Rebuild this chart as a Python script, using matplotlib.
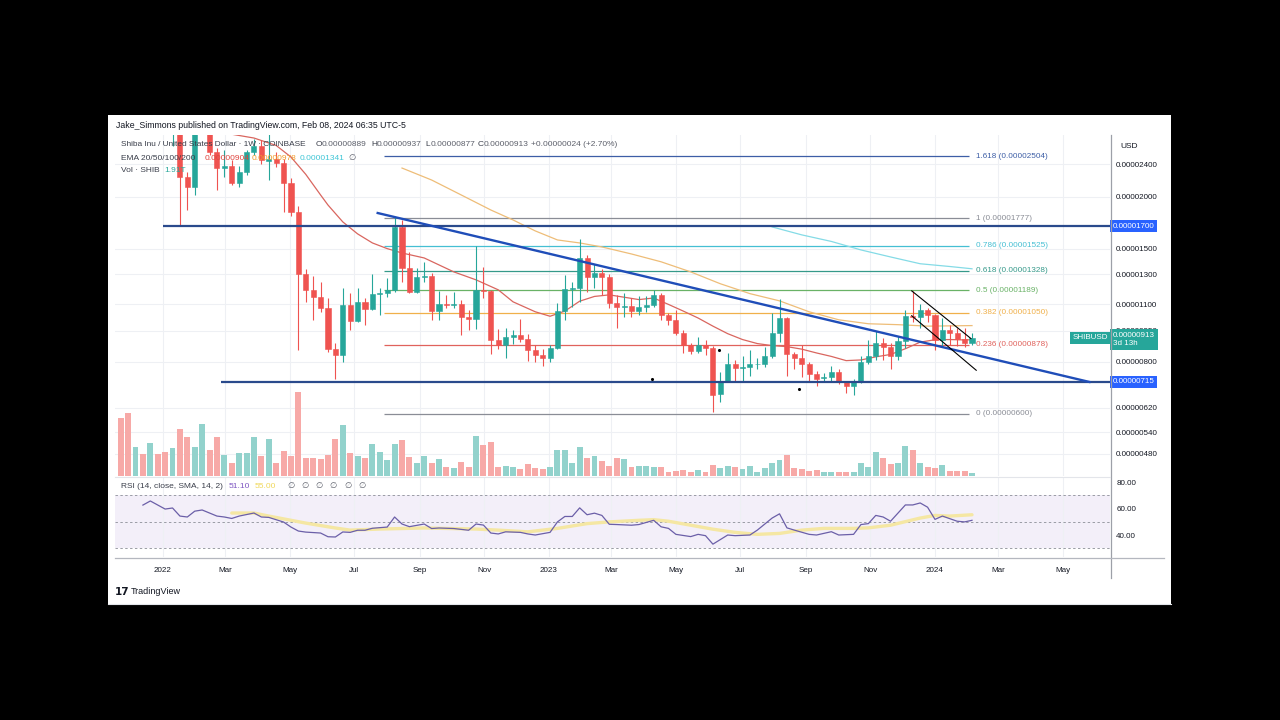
import numpy as np
import pandas as pd
import matplotlib
matplotlib.use("Agg")
import matplotlib.pyplot as plt
import matplotlib.dates as mdates
import matplotlib.transforms as mtrans
from matplotlib.lines import Line2D
from matplotlib.patches import Rectangle
from matplotlib.ticker import FixedLocator, NullLocator

plt.rcParams['font.family'] = ['Liberation Sans', 'DejaVu Sans']

# ---- weekly SHIB/USD candles (prices in 1e-8 USD) ----
first_week = "2021-11-22"
opens = [4300, 4100, 3500, 3650, 3200, 3500, 3350, 2900,
         3000, 2233, 2112, 2900, 3000, 2566, 2348, 2370,
         2160, 2295, 2565, 2660, 2440, 2470, 2415, 2160,
         1838, 1300, 1193, 1148, 1079, 860, 830, 1094,
         1005, 1112, 1073, 1163, 1170, 1193, 1692, 1346,
         1180, 1282, 1290, 1062, 1104, 1098, 1104, 1027,
         1015, 1193, 1186, 904, 880, 920, 930, 910,
         856, 830, 818, 865, 1063, 1199, 1206, 1424,
         1282, 1311, 1282, 1110, 1086, 1092, 1062, 1086,
         1098, 1160, 1036, 1010, 940, 880, 851, 880,
         862, 667, 717, 788, 771, 775, 788, 788,
         826, 940, 1021, 833, 815, 788, 746, 730,
         734, 754, 713, 700, 719, 801, 826, 887,
         870, 826, 896, 1033, 1027, 1068, 1036, 904,
         956, 940, 910, 889]
highs = [4700, 4400, 4000, 3700, 3700, 3900, 3400, 3300,
         3100, 2290, 2950, 3500, 3100, 2620, 2600, 2450,
         2380, 2600, 2760, 2740, 2850, 2560, 2470, 2220,
         1900, 1340, 1290, 1246, 1140, 890, 1205, 1169,
         1206, 1140, 1305, 1206, 1275, 1788, 1759, 1476,
         1346, 1389, 1311, 1186, 1160, 1180, 1129, 1068,
         1525, 1354, 1193, 960, 967, 956, 1014, 935,
         880, 860, 880, 1109, 1296, 1247, 1580, 1448,
         1380, 1340, 1300, 1160, 1173, 1140, 1150, 1153,
         1193, 1173, 1050, 1068, 956, 890, 920, 904,
         875, 754, 840, 810, 828, 856, 815, 870,
         1050, 1135, 1027, 846, 880, 800, 760, 750,
         780, 770, 720, 725, 824, 904, 948, 915,
         890, 925, 1068, 1186, 1104, 1080, 1045, 1021,
         980, 967, 967, 937]
lows = [3700, 3300, 3100, 2950, 3100, 3200, 2850, 2660,
        1711, 1859, 2021, 2850, 2520, 2077, 2230, 2140,
        2110, 2260, 2520, 2400, 2196, 2360, 1838, 1800,
        856, 1114, 1010, 1056, 844, 725, 797, 956,
        995, 983, 1068, 1040, 1147, 1180, 1247, 1173,
        1173, 1247, 1010, 1010, 1080, 1080, 927, 956,
        960, 1141, 833, 860, 819, 884, 894, 803,
        801, 780, 801, 860, 1010, 1086, 1116, 1180,
        1206, 1160, 1080, 967, 1027, 1027, 1040, 1056,
        1086, 1010, 983, 930, 842, 833, 838, 830,
        604, 640, 713, 713, 713, 740, 770, 775,
        819, 894, 741, 767, 734, 713, 700, 715,
        720, 706, 671, 664, 710, 790, 810, 806,
        767, 806, 865, 1000, 967, 1000, 856, 870,
        880, 875, 870, 877]
closes = [4100, 3700, 3650, 3200, 3500, 3350, 2900, 3000,
          2233, 2112, 2900, 3000, 2566, 2348, 2370, 2160,
          2295, 2565, 2660, 2455, 2470, 2415, 2160, 1838,
          1300, 1193, 1148, 1079, 860, 830, 1094, 1005,
          1112, 1073, 1163, 1170, 1193, 1692, 1346, 1180,
          1282, 1290, 1062, 1104, 1098, 1104, 1027, 1015,
          1193, 1186, 904, 880, 920, 930, 910, 856,
          830, 818, 865, 1063, 1199, 1206, 1424, 1282,
          1311, 1282, 1110, 1086, 1092, 1062, 1086, 1098,
          1160, 1036, 1010, 940, 880, 851, 880, 862,
          664, 717, 788, 771, 775, 788, 791, 826,
          940, 1021, 833, 815, 788, 746, 725, 734,
          754, 713, 700, 719, 801, 826, 887, 870,
          826, 896, 1033, 1027, 1068, 1036, 904, 956,
          940, 910, 889, 913]
vol_t = [41.4, 45, 20.4, 15.6, 23.4, 15.6, 17.4, 19.8,
         33.6, 27.6, 20.4, 37.2, 18.6, 27.6, 15, 9.6,
         16.2, 16.2, 27.6, 14.4, 26.4, 9, 18, 14.4,
         60, 13.2, 13.2, 12, 15, 26.4, 36.6, 16.2,
         14.4, 12.6, 22.8, 16.8, 11.4, 22.8, 25.8, 13.8,
         9, 14.4, 9.6, 12, 6.6, 6, 10.2, 6.6,
         28.8, 22.2, 24, 6.6, 7.2, 6.6, 4.8, 8.4,
         5.4, 4.8, 6.6, 18.6, 18.6, 9.6, 20.4, 12.6,
         14.4, 10.8, 7.2, 12.6, 12, 6.6, 7.2, 7.2,
         6.6, 6.6, 3, 3.6, 4.2, 3, 4.2, 3,
         7.8, 5.4, 7.2, 6.6, 4.8, 7.2, 3, 6,
         9.6, 11.4, 15, 5.4, 4.8, 3.6, 4.2, 3,
         3, 3, 3, 3, 9.6, 6.6, 16.8, 12.6,
         8.4, 9, 21.6, 18.6, 9.6, 6.6, 5.4, 7.8,
         3.6, 3.6, 3.6, 1.9]

# EMA values at some candle indices
ema20_idx = [13, 15, 18, 21, 23, 25, 27, 28, 30, 32, 34, 36, 38, 41, 43, 45, 48, 51, 53,
             56, 58, 60, 62, 64, 66, 68, 70, 72, 74, 76, 78, 80, 82, 84, 86, 88, 90, 92,
             94, 96, 98, 100, 102, 104, 106, 108, 110, 112, 114, 115]
ema20_val = [2950, 2832, 2773, 2661, 2495, 2266, 2021, 1911, 1740, 1628, 1548, 1500, 1464,
             1424, 1370, 1318, 1261, 1193, 1116, 1056, 1030, 1060, 1120, 1150, 1160, 1145,
             1130, 1140, 1100, 1060, 1020, 975, 935, 905, 885, 875, 870, 858, 840, 824,
             805, 808, 822, 833, 860, 892, 904, 905, 903, 904]
ema50_idx = [38, 42, 46, 50, 53, 56, 59, 62, 65, 69, 73, 77, 81, 85, 89, 93, 97, 101, 105, 109, 115]
ema50_val = [2347, 2196, 2021, 1859, 1759, 1655, 1574, 1548, 1514, 1456, 1394, 1318, 1234,
             1168, 1122, 1056, 1010, 988, 983, 975, 978]
ema100_idx = [88, 92, 96, 100, 104, 108, 112, 115]
ema100_val = [1692, 1619, 1561, 1489, 1432, 1379, 1358, 1341]

rsi_idx = [3, 4, 6, 7, 8, 9, 10, 11, 13, 14, 15, 16, 18, 19, 20, 22, 23, 24, 25, 27, 28, 29,
           30, 31, 32, 33, 34, 36, 37, 38, 39, 41, 42, 43, 45, 47, 48, 49, 50, 51, 52, 54,
           55, 56, 58, 59, 60, 61, 62, 63, 64, 65, 66, 67, 69, 70, 72, 73, 74, 75, 77, 78,
           79, 80, 82, 83, 85, 86, 88, 89, 90, 91, 93, 94, 96, 97, 99, 100, 101, 102, 103,
           104, 106, 107, 108, 109, 110, 111, 113, 114, 115]
rsi_val = [62.6, 65.7, 59.6, 60.4, 54.3, 53.6, 58, 58.9, 54.3, 53.6, 52.5, 54.3, 56.6, 53.6,
           53.3, 49.8, 46, 43, 42.2, 41.5, 38.7, 38.5, 42.3, 42, 43.6, 43.6, 45.1, 46, 53.6,
           48.3, 46.3, 48.3, 44.9, 45.3, 44.9, 43.6, 48.3, 47.5, 41.5, 40.8, 42.4, 42, 40.8,
           40, 42, 49.9, 54, 54, 60.5, 55.3, 56.5, 54.8, 48.1, 47.9, 47.4, 47.9, 51.1, 46.2,
           45, 40.5, 38.8, 40.5, 39.5, 33.1, 40, 39.5, 40, 43.7, 52.8, 56, 45.4, 43.7, 40.5,
           40, 42.5, 40, 40.5, 47.9, 48.6, 54.8, 53.6, 50.4, 62.7, 62.7, 64.2, 61, 51.8,
           54.3, 50.4, 49.9, 51.1]
rsima_idx = [15, 18, 20, 25, 29, 31, 35, 41, 48, 51, 55, 59, 63, 66, 70, 72, 74, 77, 80, 83,
             86, 89, 92, 95, 99, 101, 104, 108, 110, 112, 115]
rsima_val = [56.6, 56.6, 54.3, 49, 45.3, 43.7, 44.5, 45.3, 44.5, 43.7, 42.4, 45, 48.6, 49.9,
             51.1, 51.6, 50.4, 47.4, 44.4, 42, 40.5, 41.2, 43.7, 45, 45, 45.4, 47.4, 52.8,
             54.8, 54.3, 55.3]

# drawings
fib_names = ["1.618", "1", "0.786", "0.618", "0.5", "0.382", "0.236", "0"]
fib_prices = [2504, 1777, 1525, 1328, 1189, 1050, 878, 600]
fib_colors = ["#3d5ea6", "#8a8d96", "#45bfd3", "#35998a", "#69b266", "#f0b04a", "#e0625c", "#8a8d96"]
fib_span = ("2022-07-29", "2024-02-02")
levels = [1700, 715]
level_start = ["2022-01-01", "2022-02-25"]
trend_pts = (("2022-07-23", 1828), ("2024-05-26", 715))
chan_upper = (("2023-12-10", 1186), ("2024-02-04", 910))
chan_lower = (("2023-12-10", 1033), ("2024-02-09", 763))
dots = [("2023-06-11", 856), ("2023-04-08", 725), ("2023-08-25", 686)]

price_ticks = [480, 540, 620, 800, 950, 1100, 1300, 1500, 2000, 2400]
month_ticks = pd.date_range("2022-01-01", "2024-05-01", freq="2MS")

W, H = 1280, 720
def fx(p): return p / W
def fy(p): return 1 - p / H
def dn(s): return mdates.date2num(pd.Timestamp(s).to_pydatetime())

dates = pd.date_range(first_week, periods=len(opens), freq="7D")
xs = mdates.date2num(dates.to_pydatetime())
o, h, l, c = map(np.array, (opens, highs, lows, closes))
up = c >= o
ccol = np.where(up, "#26a69a", "#ef5350")
vcol = np.where(up, "#92d2cc", "#f7a9a7")

x0 = dn("2022-01-01") - 45.4
x1 = dn("2022-01-01") + 895.5
ylo, yhi = 424, 2820

fig = plt.figure(figsize=(12.8, 7.2), dpi=100, facecolor="black")
fig.patches.append(Rectangle((fx(108), fy(605)), fx(1171) - fx(108), fy(115) - fy(605),
                             transform=fig.transFigure, facecolor="white",
                             edgecolor="none", zorder=-5))

rect = [fx(115), fy(476), fx(1110) - fx(115), fy(135) - fy(476)]
grid_c = "#eef0f4"

# grid layer
axg = fig.add_axes(rect)
axg.set_yscale("log")
axg.set_xlim(x0, x1)
axg.set_ylim(ylo, yhi)
axg.yaxis.set_major_locator(FixedLocator(price_ticks))
axg.yaxis.set_minor_locator(NullLocator())
axg.set_xticks(mdates.date2num(month_ticks.to_pydatetime()))
axg.grid(True, color=grid_c, lw=0.8)
axg.tick_params(length=0, labelleft=False, labelbottom=False)
for s in axg.spines.values():
    s.set_visible(False)
axg.patch.set_visible(False)

# volume layer
axv = fig.add_axes(rect)
axv.bar(xs, vol_t, width=5.6, color=vcol, linewidth=0)
axv.set_xlim(x0, x1)
axv.set_ylim(0, 60 * 341 / 84)
axv.axis("off")

# price layer
ax = fig.add_axes(rect)
ax.patch.set_visible(False)
ax.set_yscale("log")
ax.set_xlim(x0, x1)
ax.set_ylim(ylo, yhi)
for s in ax.spines.values():
    s.set_visible(False)

ax.vlines(xs, l, h, colors=ccol, linewidth=0.8, zorder=3)
blo = np.minimum(o, c)
bhi = np.maximum(o, c)
ax.bar(xs, bhi - blo, bottom=blo, width=4.8, color=ccol, edgecolor=ccol, linewidth=0.4, zorder=4)

ax.plot(xs[ema20_idx], ema20_val, color="#d9665f", lw=0.9, zorder=2)
ax.plot(xs[ema50_idx], ema50_val, color="#eebd78", lw=0.9, zorder=2)
ax.plot(xs[ema100_idx], ema100_val, color="#84dbe6", lw=0.9, zorder=2)

for name, p, col in zip(fib_names, fib_prices, fib_colors):
    ax.hlines(p, dn(fib_span[0]), dn(fib_span[1]), color=col, lw=0.9, zorder=1.5)
    ax.text(dn("2024-02-09"), p, f"{name} ({p * 1e-8:.8f})", color=col, fontsize=5.9,
            va="center", ha="left", zorder=6)

for p, s in zip(levels, level_start):
    ax.hlines(p, dn(s), x1, color="#2a4a8c", lw=1.6, zorder=5)

ax.plot([dn(trend_pts[0][0]), dn(trend_pts[1][0])], [trend_pts[0][1], trend_pts[1][1]],
        color="#1f4db8", lw=1.7, zorder=5)
for seg in (chan_upper, chan_lower):
    ax.plot([dn(seg[0][0]), dn(seg[1][0])], [seg[0][1], seg[1][1]], color="black", lw=0.8, zorder=5)
ax.scatter([dn(d) for d, _ in dots], [p for _, p in dots], s=1.5, color="black", zorder=6)

ax.yaxis.tick_right()
ax.yaxis.set_major_locator(FixedLocator(price_ticks))
ax.yaxis.set_minor_locator(NullLocator())
ax.set_yticklabels([f"{t * 1e-8:.8f}" for t in price_ticks])
ax.tick_params(axis="y", length=0, pad=4.5, labelsize=5.8, labelcolor="#131722")
ax.tick_params(axis="x", length=0, labelbottom=False)

bt = mtrans.blended_transform_factory(ax.transAxes, ax.transData)
for p in levels:
    ax.text(1 + 3 / 995, p, f"{p * 1e-8:.8f}", transform=bt, ha="left", va="center",
            fontsize=5.8, color="white", clip_on=False, zorder=10,
            bbox=dict(boxstyle="square,pad=0.32", fc="#2962ff", ec="none"))
ax.text(1 - 1.5 / 995, closes[-1], "SHIBUSD", transform=bt, ha="right", va="center",
        fontsize=5.8, color="white", clip_on=False, zorder=10,
        bbox=dict(boxstyle="square,pad=0.32", fc="#26a69a", ec="none"))
ax.annotate(f"{closes[-1] * 1e-8:.8f}\n3d 13h", xy=(1 + 3 / 995, closes[-1]), xycoords=bt,
            xytext=(0, 4.3), textcoords="offset points", ha="left", va="top",
            fontsize=5.8, color="white", linespacing=1.25, annotation_clip=False, zorder=10,
            bbox=dict(boxstyle="square,pad=0.32", fc="#26a69a", ec="none"))

# RSI pane
axr = fig.add_axes([fx(115), fy(557), fx(1110) - fx(115), fy(477) - fy(557)])
axr.patch.set_visible(False)
axr.set_xlim(x0, x1)
axr.set_ylim(23.4, 83.8)
axr.axhspan(30, 70, color="#7e57c2", alpha=0.09, lw=0)
for lv in (70, 50, 30):
    axr.axhline(lv, color="#9a9ca5", lw=0.7, ls=(0, (2.5, 2.5)))
axr.plot(xs[rsima_idx], rsima_val, color="#f5e7a3", lw=2.4, solid_capstyle="round")
axr.plot(xs[rsi_idx], rsi_val, color="#6b5fa8", lw=0.9)
axr.set_xticks(mdates.date2num(month_ticks.to_pydatetime()))
axr.set_xticklabels([str(d.year) if d.month == 1 else d.strftime("%b") for d in month_ticks])
axr.grid(True, axis="x", color=grid_c, lw=0.8)
axr.yaxis.tick_right()
axr.set_yticks([40, 60, 80])
axr.set_yticklabels(["40.00", "60.00", "80.00"])
axr.tick_params(axis="y", length=0, pad=4.5, labelsize=5.8, labelcolor="#131722")
axr.tick_params(axis="x", length=0, pad=7, labelsize=5.8, labelcolor="#131722")
for s in axr.spines.values():
    s.set_visible(False)

# frame lines
fig.add_artist(Line2D([fx(1110.5)] * 2, [fy(135), fy(578)], color="#9da0a8", lw=0.9))
fig.add_artist(Line2D([fx(115), fx(1164)], [fy(558), fy(558)], color="#b4b7bf", lw=0.9))
fig.add_artist(Line2D([fx(115), fx(1110)], [fy(476.5), fy(476.5)], color="#e3e5ea", lw=0.8))
fig.add_artist(Line2D([fx(108), fx(1171)], [fy(604), fy(604)], color="#e3e5ea", lw=0.8))

def label(x, y, s, color="#131722", size=6.0, **kw):
    fig.text(fx(x), fy(y), s, color=color, fontsize=size, va="center", ha="left", **kw)

label(116, 126, "Jake_Simmons published on TradingView.com, Feb 08, 2024 06:35 UTC-5", size=6.3)
label(121, 144, "Shiba Inu / United States Dollar · 1W · COINBASE", color="#3a3e4a", size=5.95)
val_c = "#5d606b"
for x, k, v in [(316, "O", "0.00000889"), (371, "H", "0.00000937"),
                (425, "L", "0.00000877"), (478, "C", "0.00000913")]:
    label(x, 144, k, color="#3a3e4a")
    label(x + 6, 144, v, color=val_c)
label(531, 144, "+0.00000024 (+2.70%)", color=val_c)
label(121, 158, "EMA 20/50/100/200", color="#3a3e4a")
label(205, 158, "0.00000904", color="#e0453e")
label(252, 158, "0.00000978", color="#f19a2a")
label(300, 158, "0.00001341", color="#3fc6d6")
label(348, 158, "\u2205", color="#5d606b")
label(121, 171, "Vol · SHIB", color="#3a3e4a")
label(164, 171, "1.91T", color="#26a69a")
label(1120, 146, "USD")

label(121, 487, "RSI (14, close, SMA, 14, 2)", color="#3a3e4a")
label(229, 487, "51.10", color="#7e57c2")
label(255, 487, "55.00", color="#f0d85a")
for x in (287, 301, 315, 329, 344, 358):
    label(x, 487, "\u2205", color="#5d606b")

label(115, 592, "17", size=7.5, fontweight="heavy", family=["DejaVu Sans"])
label(131, 592, "TradingView", size=6.5)

fig.savefig("out.png", dpi=100, facecolor="black")
